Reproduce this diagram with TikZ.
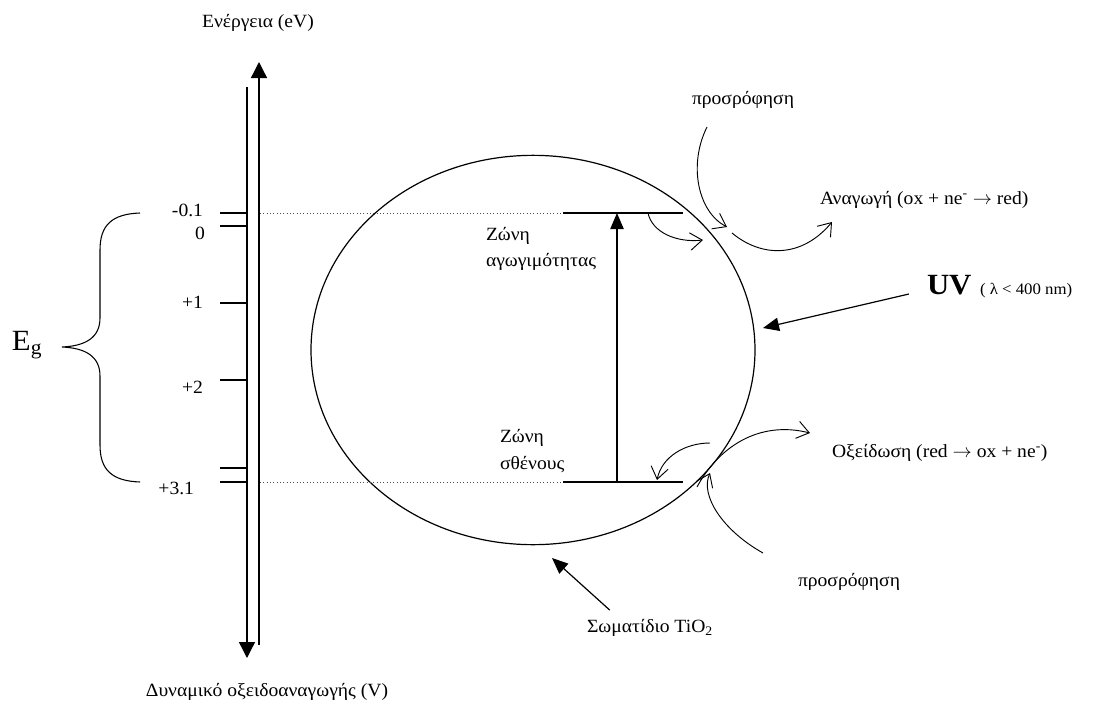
\documentclass[tikz,border=0pt]{standalone}
\usepackage{fontspec}
\setmainfont[FakeStretch=1.05]{Liberation Serif}
\usetikzlibrary{arrows.meta,shapes.geometric}
\tikzset{
  lbl/.style={inner sep=0pt,outer sep=0pt,font=\fontsize{14}{20}\selectfont},
  tickmark/.style={line width=0.9pt},
  levelline/.style={line width=0.9pt},
  dotline/.style={dotted,line width=0.5pt,black!70},
  flowarrow/.style={line width=0.7pt,-{Straight Barb[length=9pt,width=13pt]}},
  solidarrow/.style={line width=0.9pt,-{Triangle[length=12pt,width=10pt]}},
}
\begin{document}
\begin{tikzpicture}[x=.75pt,y=-.75pt]
\useasboundingbox (0,0) rectangle (1107,707);
\coordinate (axLtop) at (247,87);
\coordinate (axLbot) at (247,658);
\coordinate (axRbot) at (259,645);
\coordinate (axRtop) at (259,62);
\draw[line width=1pt,-{Triangle[length=12pt,width=12pt]}] (axLtop) -- (axLbot);
\draw[line width=1pt,-{Triangle[length=12pt,width=12pt]}] (axRbot) -- (axRtop);
\node[lbl] (energy) at (258,23) {Ενέργεια (eV)};
\node[lbl] (potential) at (267,692) {Δυναμικό οξειδοαναγωγής (V)};
\foreach \y in {213,226,303,380,468,482}
  \draw[tickmark] (220,\y) -- (247,\y);
\node[lbl,anchor=east] (vm01) at (203,210) {-0.1};
\node[lbl,anchor=east] (v0) at (205,233) {0};
\node[lbl,anchor=east] (v1) at (203,302) {+1};
\node[lbl,anchor=east] (v2) at (203,387) {+2};
\node[lbl,anchor=east] (v31) at (194,488) {+3.1};
\coordinate (brtop) at (140,213);
\coordinate (brtip) at (62,347);
\coordinate (brbot) at (140,482);
\draw[line width=0.8pt] (brtop) .. controls (112,214) and (100,225) .. (100,250) -- (100,318)
  .. controls (100,338) and (85,346) .. (brtip)
  .. controls (85,348) and (100,356) .. (100,376) -- (100,445)
  .. controls (100,470) and (112,481) .. (brbot);
\node[lbl,anchor=west,font=\fontsize{22}{26}\selectfont] (eg) at (12,345) {E\textsubscript{g}};
\node[draw,ellipse,line width=0.9pt,minimum width=333pt,minimum height=292pt,inner sep=0pt] (particle) at (533,350) {};
\coordinate (cbL) at (563,213);
\coordinate (cbR) at (683,213);
\coordinate (vbL) at (563,482);
\coordinate (vbR) at (683,482);
\coordinate (dotcb) at (260,213);
\coordinate (dotvb) at (260,482);
\draw[dotline] (dotcb) -- (cbL);
\draw[dotline] (dotvb) -- (vbL);
\draw[levelline] (cbL) -- (cbR);
\draw[levelline] (vbL) -- (vbR);
\coordinate (gapbot) at (617,482);
\coordinate (gaptop) at (617,213);
\draw[solidarrow] (gapbot) -- (gaptop);
\node[lbl,anchor=west,align=left] (cblbl) at (486,249) {Ζώνη\\αγωγιμότητας};
\node[lbl,anchor=west,align=left] (vblbl) at (500,451) {Ζώνη\\σθένους};
\coordinate (cbflowA) at (648,213);
\coordinate (cbflowB) at (703,240);
\draw[flowarrow] (cbflowA) .. controls (652,232) and (676,243) .. (cbflowB);
\node[lbl] (adstop) at (743,100) {προσρόφηση};
\coordinate (adstopA) at (707,127);
\coordinate (adstopB) at (727,227);
\draw[flowarrow] (adstopA) .. controls (688,165) and (698,212) .. (adstopB);
\coordinate (redA) at (732,233);
\coordinate (redB) at (832,222);
\draw[flowarrow] (redA) .. controls (762,258) and (802,258) .. (redB);
\node[lbl,anchor=west] (redlbl) at (820,200) {Αναγωγή (ox + ne\textsuperscript{-} $\rightarrow$ red)};
\node[lbl,anchor=base west,font=\fontsize{22}{26}\selectfont\bfseries] (uv) at (927,294) {UV};
\node[lbl,anchor=base west,font=\fontsize{12}{14}\selectfont] (uvrange) at (980,294) {( λ < 400 nm)};
\coordinate (uvtip) at (763,328);
\draw[solidarrow,shorten <=14pt] (uv) -- (uvtip);
\coordinate (vbflowA) at (710,443);
\coordinate (vbflowB) at (657,480);
\draw[flowarrow] (vbflowA) .. controls (686,443) and (662,456) .. (vbflowB);
\coordinate (oxA) at (697,487);
\coordinate (oxB) at (810,433);
\draw[flowarrow] (oxA) .. controls (718,448) and (758,420) .. (oxB);
\node[lbl,anchor=west] (oxlbl) at (832,453) {Οξείδωση (red $\rightarrow$ ox + ne\textsuperscript{-})};
\coordinate (adsbotA) at (763,553);
\coordinate (adsbotB) at (710,473);
\draw[flowarrow] (adsbotA) .. controls (722,530) and (700,495) .. (adsbotB);
\node[lbl] (adsbot) at (849,582) {προσρόφηση};
\node[lbl] (tio2) at (650,628) {Σωματίδιο TiO\textsubscript{2}};
\coordinate (tiotip) at (552,558);
\draw[solidarrow] ([xshift=17pt,yshift=7pt]tio2.north west) -- (tiotip);
\end{tikzpicture}
\end{document}
